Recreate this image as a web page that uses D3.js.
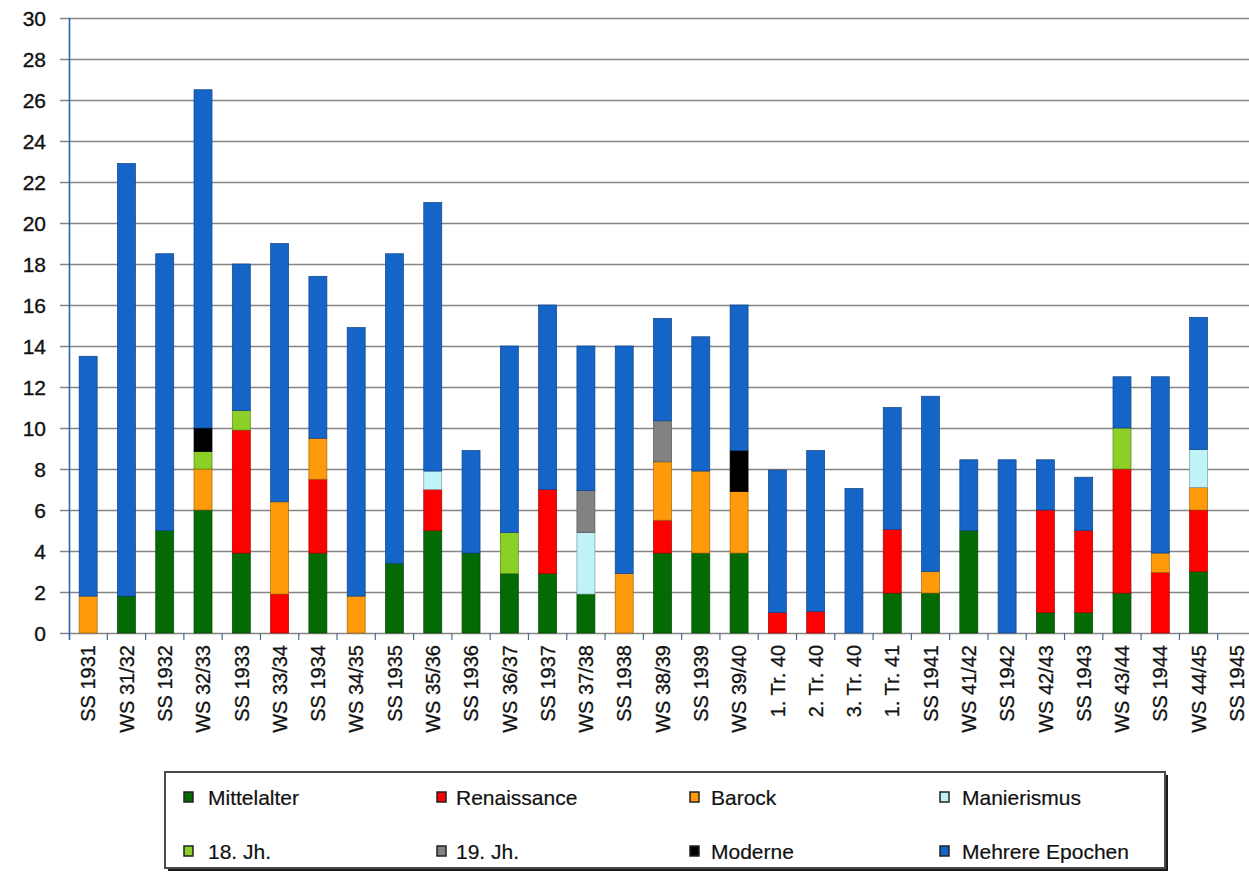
<!DOCTYPE html>
<html>
<head>
<meta charset="utf-8">
<script src="https://cdn.jsdelivr.net/npm/d3@7"></script>
<style>
  html, body { margin: 0; padding: 0; background: #ffffff; }
  svg { display: block; font-family: "Liberation Sans", Arial, sans-serif; }
  text { paint-order: stroke; }
</style>
</head>
<body>
<script>
// Semester labels along the x axis
const categories = [
  "SS 1931", "WS 31/32", "SS 1932", "WS 32/33", "SS 1933", "WS 33/34", "SS 1934",
  "WS 34/35", "SS 1935", "WS 35/36", "SS 1936", "WS 36/37", "SS 1937", "WS 37/38",
  "SS 1938", "WS 38/39", "SS 1939", "WS 39/40", "1. Tr. 40", "2. Tr. 40", "3. Tr. 40",
  "1. Tr. 41", "SS 1941", "WS 41/42", "SS 1942", "WS 42/43", "SS 1943", "WS 43/44",
  "SS 1944", "WS 44/45", "SS 1945"
];

// Epoch series (stacked from bottom to top in this order)
const seriesNames = [
  "Mittelalter", "Renaissance", "Barock", "Manierismus",
  "18. Jh.", "19. Jh.", "Moderne", "Mehrere Epochen"
];
const seriesColors = [
  "#046b04", "#ff0000", "#ff9a0a", "#bff3f7",
  "#8ccf26", "#828282", "#000000", "#1565c9"
];

const mittelalter = [0, 1.8, 5, 6, 3.9, 0, 3.9, 0, 3.4, 5, 3.9, 2.9, 2.9, 1.9, 0, 3.9, 3.9, 3.9, 0, 0, 0, 1.95, 1.95, 5, 0, 1, 1, 1.95, 0, 3, 0];
const renaissance = [0, 0, 0, 0, 6, 1.9, 3.6, 0, 0, 2, 0, 0, 4.1, 0, 0, 1.6, 0, 0, 1, 1.05, 0, 3.1, 0, 0, 0, 5, 4, 6.05, 2.95, 3, 0];
const barock      = [1.8, 0, 0, 2, 0, 4.5, 2, 1.8, 0, 0, 0, 0, 0, 0, 2.9, 2.85, 4, 3, 0, 0, 0, 0, 1.05, 0, 0, 0, 0, 0, 0.95, 1.1, 0];
const manierismus = [0, 0, 0, 0, 0, 0, 0, 0, 0, 0.9, 0, 0, 0, 3, 0, 0, 0, 0, 0, 0, 0, 0, 0, 0, 0, 0, 0, 0, 0, 1.85, 0];
const jh18        = [0, 0, 0, 0.85, 0.95, 0, 0, 0, 0, 0, 0, 2, 0, 0, 0, 0, 0, 0, 0, 0, 0, 0, 0, 0, 0, 0, 0, 2, 0, 0, 0];
const jh19        = [0, 0, 0, 0, 0, 0, 0, 0, 0, 0, 0, 0, 0, 2.05, 0, 2, 0, 0, 0, 0, 0, 0, 0, 0, 0, 0, 0, 0, 0, 0, 0];
const moderne     = [0, 0, 0, 1.15, 0, 0, 0, 0, 0, 0, 0, 0, 0, 0, 0, 0, 0, 2, 0, 0, 0, 0, 0, 0, 0, 0, 0, 0, 0, 0, 0];
const mehrere     = [11.7, 21.1, 13.5, 16.5, 7.15, 12.6, 7.9, 13.1, 15.1, 13.1, 5, 9.1, 9, 7.05, 11.1, 5, 6.55, 7.1, 6.95, 7.85, 7.05, 5.95, 8.55, 3.45, 8.45, 2.45, 2.6, 2.5, 8.6, 6.45, 0];

// Y axis tick values
const yTicks = [0, 2, 4, 6, 8, 10, 12, 14, 16, 18, 20, 22, 24, 26, 28, 30];

const seriesValues = [mittelalter, renaissance, barock, manierismus, jh18, jh19, moderne, mehrere];

// Build one row per semester for d3.stack
const rows = categories.map((c, i) => {
  const r = { cat: c };
  seriesNames.forEach((s, k) => { r[s] = seriesValues[k][i]; });
  return r;
});
const stacked = d3.stack().keys(seriesNames)(rows);

const W = 1249, H = 873;
const svg = d3.select("body").append("svg").attr("width", W).attr("height", H);

const plotLeft = 69, plotRight = 1256, plotTop = 18, plotBottom = 633;

const x = d3.scaleBand().domain(categories).range([plotLeft, plotRight])
  .paddingInner(0.53).paddingOuter(0.265);
const y = d3.scaleLinear().domain([0, 30]).range([plotBottom, plotTop]);

// Horizontal grid lines
svg.append("g").selectAll("line").data(yTicks).join("line")
  .attr("x1", 60).attr("x2", W)
  .attr("y1", d => y(d) + 0.5).attr("y2", d => y(d) + 0.5)
  .attr("stroke", "#858585").attr("stroke-width", 1.3);

// Stacked bars
const color = d3.scaleOrdinal().domain(seriesNames).range(seriesColors);
svg.append("g").selectAll("g").data(stacked).join("g")
  .attr("fill", d => color(d.key))
  .attr("stroke", d => d3.color(color(d.key)).darker(1.2))
  .attr("stroke-width", 0.7)
  .selectAll("rect")
  .data(d => d.filter(p => p[1] - p[0] > 0))
  .join("rect")
  .attr("x", d => x(d.data.cat))
  .attr("width", x.bandwidth())
  .attr("y", d => y(d[1]))
  .attr("height", d => y(d[0]) - y(d[1]));

// Y axis labels
const yAxis = d3.axisLeft(y).tickValues(yTicks).tickSize(0).tickPadding(0);
const yg = svg.append("g").attr("transform", "translate(46,0)").call(yAxis);
yg.select(".domain").remove();
yg.selectAll("text")
  .attr("font-size", 21).attr("fill", "#111")
  .attr("stroke", "#111").attr("stroke-width", 0.35)
  .attr("font-family", "'Liberation Sans', Arial, sans-serif")
  .attr("dy", "0.36em");

// Vertical axis line
svg.append("line")
  .attr("x1", plotLeft + 0.5).attr("x2", plotLeft + 0.5)
  .attr("y1", y(30)).attr("y2", plotBottom + 7)
  .attr("stroke", "#2c62a8").attr("stroke-width", 1.6);

// Category boundary ticks below the baseline
const bounds = categories.slice(1).map(c => x(c) - x.step() * x.paddingInner() / 2);
svg.append("g").selectAll("line").data(bounds).join("line")
  .attr("x1", d => d).attr("x2", d => d)
  .attr("y1", plotBottom).attr("y2", plotBottom + 7)
  .attr("stroke", "#4a6a94").attr("stroke-width", 1.2);

// X axis labels (rotated)
const xAxis = d3.axisBottom(x).tickSize(0).tickPadding(0);
const xg = svg.append("g").attr("transform", `translate(0,${plotBottom})`).call(xAxis);
xg.select(".domain").remove();
xg.selectAll("text")
  .attr("font-size", 20).attr("fill", "#111")
  .attr("stroke", "#111").attr("stroke-width", 0.3)
  .attr("font-family", "'Liberation Sans', Arial, sans-serif")
  .attr("text-anchor", "end")
  .attr("transform", "rotate(-90)")
  .attr("x", -12).attr("y", 0).attr("dy", "0.36em");

// Legend box with shadow
const lg = svg.append("g");
lg.append("rect").attr("x", 168).attr("y", 775).attr("width", 1000).attr("height", 96)
  .attr("fill", "#1a1a1a");
lg.append("rect").attr("x", 165).attr("y", 772).attr("width", 1000).attr("height", 96)
  .attr("fill", "#ffffff").attr("stroke", "#4a4a4a").attr("stroke-width", 2);

const colMarkerX = [184, 437, 690, 940];
const colTextX = [208, 456, 711, 962];
const rowY = [797, 851];
seriesNames.forEach((name, i) => {
  const col = i % 4, row = Math.floor(i / 4);
  lg.append("rect")
    .attr("x", colMarkerX[col]).attr("y", rowY[row] - 5)
    .attr("width", 9).attr("height", 10)
    .attr("fill", seriesColors[i])
    .attr("stroke", "#222").attr("stroke-width", 1.5);
  lg.append("text")
    .attr("x", colTextX[col]).attr("y", rowY[row])
    .attr("dy", "0.36em")
    .attr("font-size", 21).attr("fill", "#111")
    .attr("stroke", "#111").attr("stroke-width", 0.2)
    .text(name);
});
</script>
</body>
</html>
